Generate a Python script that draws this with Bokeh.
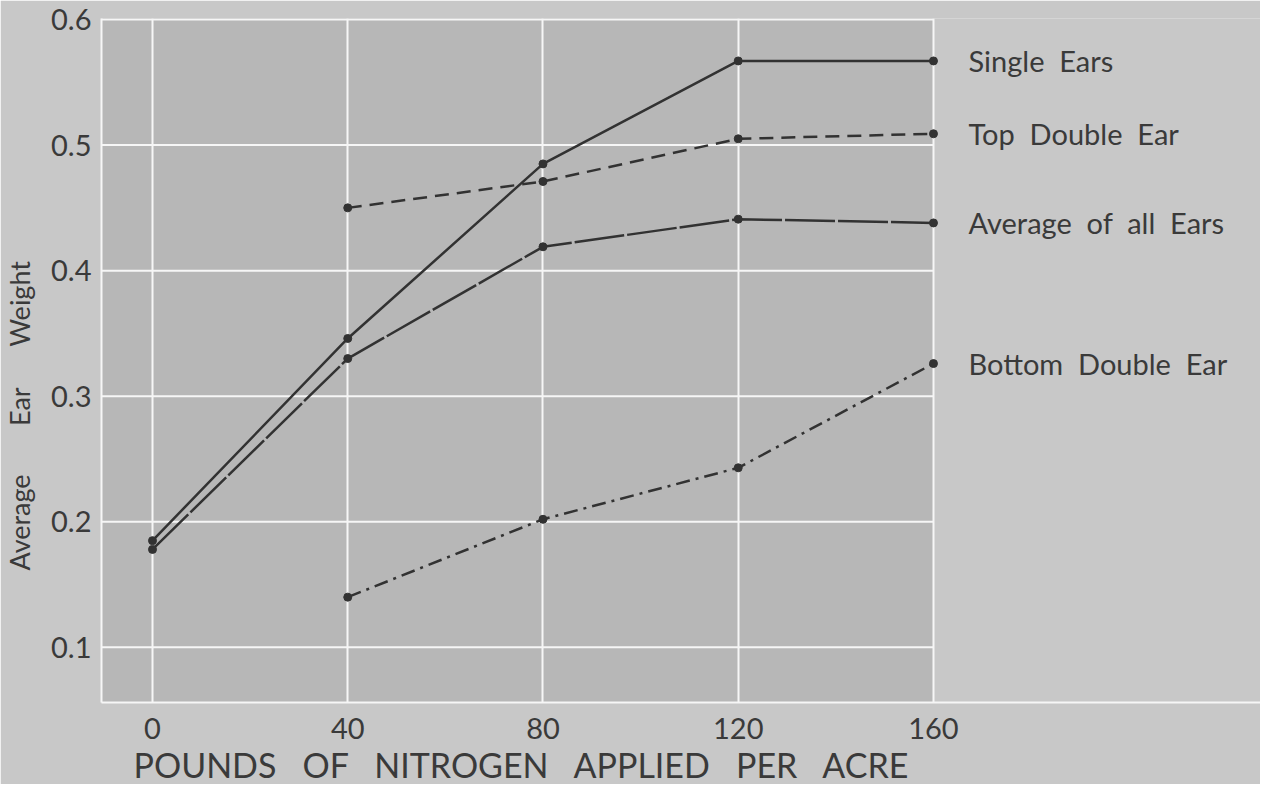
from bokeh.plotting import figure
from bokeh.models import Range1d, FixedTicker, BoxAnnotation, Title, ColumnDataSource
from bokeh.embed import file_html
from bokeh.resources import INLINE
from bokeh.core.properties import value

nan = float("nan")
nitrogen = [0, 40, 80, 120, 160]
single_ears = [0.185, 0.346, 0.485, 0.567, 0.567]
top_double_ear = [nan, 0.450, 0.471, 0.505, 0.509]
average_all_ears = [0.178, 0.330, 0.419, 0.441, 0.438]
bottom_double_ear = [nan, 0.140, 0.202, 0.243, 0.326]
series_labels = ["Single\u00a0\u00a0Ears", "Top\u00a0\u00a0Double\u00a0\u00a0Ear",
                 "Average\u00a0\u00a0of\u00a0\u00a0all\u00a0\u00a0Ears",
                 "Bottom\u00a0\u00a0Double\u00a0\u00a0Ear"]
x_ticks = [0, 40, 80, 120, 160]
y_ticks = [0.1, 0.2, 0.3, 0.4, 0.5, 0.6]
y_tick_labels = ["0.1", "0.2", "0.3", "0.4", "0.5", "0.6"]
x_title = "\u00a0\u00a0\u00a0".join(["POUNDS", "OF", "NITROGEN", "APPLIED", "PER", "ACRE"])
y_title = ("Average" + "\u00a0" * 7 + "Ear" + "\u00a0" * 6 + "Weight" + "\u00a0" * 16)

FONT = "Lato"
TXT = "#3a3a3a"
INK = "#323232"
LIGHT = "#c8c8c8"
DARK = "#b7b7b7"
WHITE = "#f6f6f6"

p = figure(width=1260, height=784, output_backend="svg", toolbar_location=None,
           x_range=Range1d(-10.45, 227.0), y_range=Range1d(0.0561, 0.6008),
           min_border_left=101, min_border_right=0, min_border_top=18, min_border_bottom=0)
p.background_fill_color = LIGHT
p.border_fill_color = LIGHT
p.outline_line_color = None

p.add_layout(BoxAnnotation(right=x_ticks[-1], fill_color=DARK, fill_alpha=1.0,
                           line_color=None, level="image"))

# horizontal grid lines, limited to the shaded area
p.segment(x0=[p.x_range.start] * len(y_ticks), x1=[x_ticks[-1]] * len(y_ticks),
          y0=y_ticks, y1=y_ticks, line_color=WHITE, line_width=2)

p.xgrid.ticker = FixedTicker(ticks=x_ticks)
p.xgrid.grid_line_color = WHITE
p.xgrid.grid_line_width = 2
p.ygrid.grid_line_color = None

p.xaxis.ticker = FixedTicker(ticks=x_ticks)
p.yaxis.ticker = FixedTicker(ticks=y_ticks)
p.yaxis.major_label_overrides = {t: l for t, l in zip(y_ticks, y_tick_labels)}
for ax in (p.xaxis, p.yaxis):
    ax.axis_line_color = WHITE
    ax.axis_line_width = 2
    ax.major_tick_line_color = None
    ax.minor_tick_line_color = None
    ax.major_label_text_font = FONT
    ax.major_label_text_color = TXT
p.xaxis.major_label_text_font_size = "29px"
p.yaxis.major_label_text_font_size = "29px"
p.xaxis.major_label_standoff = 9
p.yaxis.major_label_standoff = 4

p.yaxis.axis_label = y_title
p.yaxis.axis_label_text_font = FONT
p.yaxis.axis_label_text_font_size = "27px"
p.yaxis.axis_label_text_font_style = "normal"
p.yaxis.axis_label_text_color = TXT
p.yaxis.axis_label_standoff = 12

p.add_layout(Title(text=x_title, align="left", offset=32, text_font=FONT,
                   text_font_size="34px", text_font_style="normal",
                   text_color=TXT, standoff=0), "below")

styles = [
    (single_ears, "solid"),
    (top_double_ear, "14 8"),
    (average_all_ears, "50 3"),
    (bottom_double_ear, "14 6 3 6"),
]
for ys, dash in styles:
    p.line(nitrogen, ys, line_color=INK, line_width=2.5, line_dash=dash)
    p.scatter(nitrogen, ys, size=8, fill_color=INK, line_color=INK)

last_vals = [single_ears[-1], top_double_ear[-1], average_all_ears[-1], bottom_double_ear[-1]]
src = ColumnDataSource(dict(x=[nitrogen[-1]] * 4, y=last_vals, t=series_labels))
p.text(x="x", y="y", text="t", source=src, x_offset=35, text_baseline="middle",
       text_align="left", text_font=value(FONT), text_font_size="29px", text_color=TXT)

open("out.html", "w").write(file_html(p, INLINE))
